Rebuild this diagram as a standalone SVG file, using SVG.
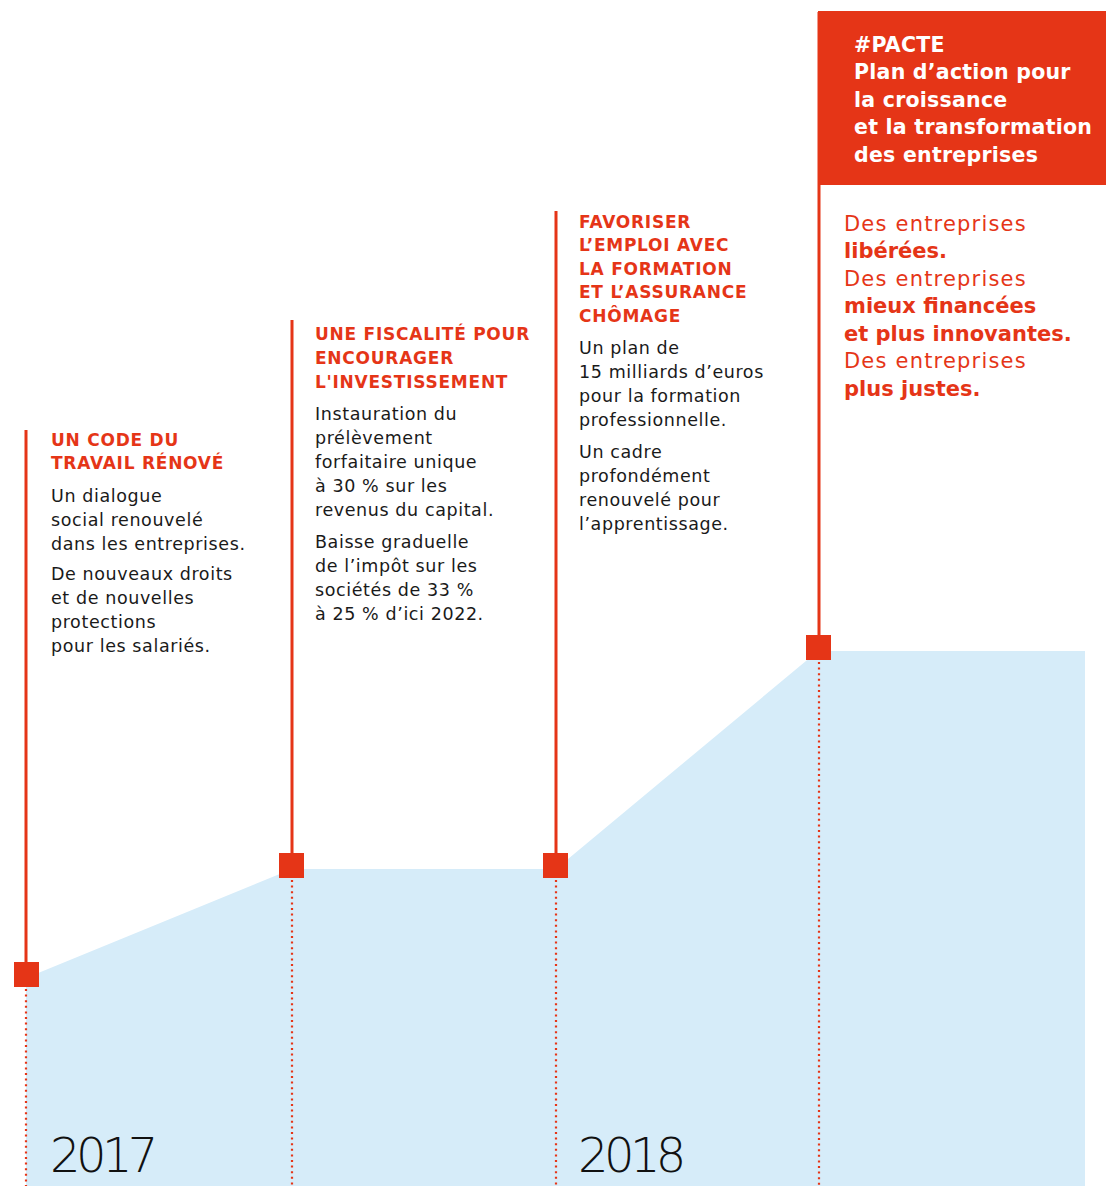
<svg xmlns="http://www.w3.org/2000/svg" width="1106" height="1186" viewBox="0 0 1106 1186">
<style>
.h{font-family:"DejaVu Sans","Liberation Sans",sans-serif;font-weight:bold;font-size:17px;letter-spacing:0.75px;fill:#E53517}
.b{font-family:"DejaVu Sans","Liberation Sans",sans-serif;font-size:17.5px;letter-spacing:0.6px;fill:#1a1a1a}
.p{font-family:"DejaVu Sans","Liberation Sans",sans-serif;font-weight:bold;font-size:20.5px;letter-spacing:0.25px;fill:#ffffff}
.r{font-family:"DejaVu Sans","Liberation Sans",sans-serif;font-size:21px;letter-spacing:1.2px;fill:#E53517}
.rb{font-weight:bold;letter-spacing:0}
.y{font-family:"DejaVu Sans","Liberation Sans",sans-serif;font-weight:300;font-size:48px;letter-spacing:-4.6px;fill:#111111}
.sol{stroke:#E53517;stroke-width:3;fill:none}
.dot{stroke:#E53517;stroke-width:2.2;stroke-dasharray:2 3.6;fill:none}
.sq{fill:#E53517}
</style>
<polygon id="area" points="26,978 292,869 556,869 818,651 1085,651 1085,1186 26,1186" fill="#D6ECF9"/>
<g id="connectors">
<line class="sol" x1="26" y1="430" x2="26" y2="962"/>
<line class="sol" x1="292" y1="320" x2="292" y2="853"/>
<line class="sol" x1="556" y1="211" x2="556" y2="853"/>
<line class="sol" x1="819" y1="12" x2="819" y2="635"/>
<line class="dot" x1="26" y1="989" x2="26" y2="1186"/>
<line class="dot" x1="292" y1="880" x2="292" y2="1186"/>
<line class="dot" x1="556" y1="880" x2="556" y2="1186"/>
<line class="dot" x1="819" y1="662" x2="819" y2="1186"/>
</g>
<g id="node-2017">
<rect class="sq" x="14" y="962" width="25" height="25"/>
<text class="h" x="51" y="446">UN CODE DU</text>
<text class="h" x="51" y="469">TRAVAIL RÉNOVÉ</text>
<text class="b" x="51" y="502">Un dialogue</text>
<text class="b" x="51" y="526">social renouvelé</text>
<text class="b" x="51" y="550">dans les entreprises.</text>
<text class="b" x="51" y="580">De nouveaux droits</text>
<text class="b" x="51" y="604">et de nouvelles</text>
<text class="b" x="51" y="628">protections</text>
<text class="b" x="51" y="652">pour les salariés.</text>
</g>
<g id="node-fiscalite">
<rect class="sq" x="279" y="853" width="25" height="25"/>
<text class="h" x="315" y="340">UNE FISCALITÉ POUR</text>
<text class="h" x="315" y="364">ENCOURAGER</text>
<text class="h" x="315" y="388">L'INVESTISSEMENT</text>
<text class="b" x="315" y="420">Instauration du</text>
<text class="b" x="315" y="444">prélèvement</text>
<text class="b" x="315" y="468">forfaitaire unique</text>
<text class="b" x="315" y="492">à 30 % sur les</text>
<text class="b" x="315" y="516">revenus du capital.</text>
<text class="b" x="315" y="548">Baisse graduelle</text>
<text class="b" x="315" y="572">de l’impôt sur les</text>
<text class="b" x="315" y="596">sociétés de 33 %</text>
<text class="b" x="315" y="620">à 25 % d’ici 2022.</text>
</g>
<g id="node-emploi">
<rect class="sq" x="543" y="853" width="25" height="25"/>
<text class="h" x="579" y="228">FAVORISER</text>
<text class="h" x="579" y="251">L’EMPLOI AVEC</text>
<text class="h" x="579" y="275">LA FORMATION</text>
<text class="h" x="579" y="298">ET L’ASSURANCE</text>
<text class="h" x="579" y="322">CHÔMAGE</text>
<text class="b" x="579" y="354">Un plan de</text>
<text class="b" x="579" y="378">15 milliards d’euros</text>
<text class="b" x="579" y="402">pour la formation</text>
<text class="b" x="579" y="426">professionnelle.</text>
<text class="b" x="579" y="458">Un cadre</text>
<text class="b" x="579" y="482">profondément</text>
<text class="b" x="579" y="506">renouvelé pour</text>
<text class="b" x="579" y="530">l’apprentissage.</text>
</g>
<g id="node-pacte">
<rect x="818" y="11" width="288" height="174" fill="#E53517"/>
<rect class="sq" x="806" y="635" width="25" height="25"/>
<text class="p" x="854" y="52">#PACTE</text>
<text class="p" x="854" y="79">Plan d’action pour</text>
<text class="p" x="854" y="107">la croissance</text>
<text class="p" x="854" y="134">et la transformation</text>
<text class="p" x="854" y="162">des entreprises</text>
<text class="r" x="844" y="231">Des entreprises</text>
<text class="r rb" x="844" y="258">libérées.</text>
<text class="r" x="844" y="286">Des entreprises</text>
<text class="r rb" x="844" y="313">mieux financées</text>
<text class="r rb" x="844" y="341">et plus innovantes.</text>
<text class="r" x="844" y="368">Des entreprises</text>
<text class="r rb" x="844" y="396">plus justes.</text>
</g>
<g id="years">
<text class="y" x="50" y="1172">2017</text>
<text class="y" x="578" y="1172">2018</text>
</g>
</svg>
